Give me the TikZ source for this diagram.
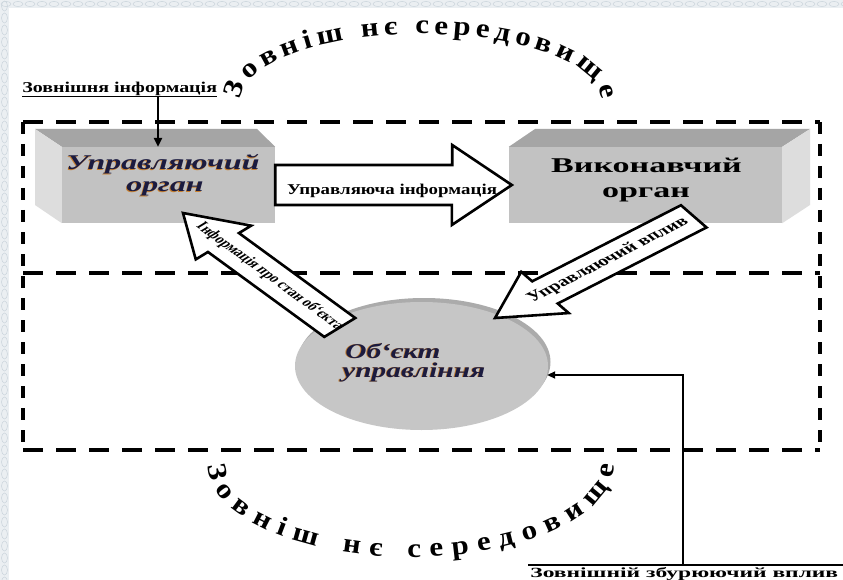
\documentclass[tikz,border=0pt]{standalone}
\usepackage{fontspec}
\setmainfont{Liberation Serif}
\newfontfamily\arcfont[FakeStretch=1.15]{Liberation Serif}
\usetikzlibrary{shapes.geometric,arrows.meta,calc,decorations.text}

\definecolor{frontgray}{HTML}{C2C2C2}
\definecolor{topgray}{HTML}{A5A5A5}
\definecolor{sidegray}{HTML}{DDDDDD}
\definecolor{discfront}{HTML}{C6C6C6}
\definecolor{discrim}{HTML}{ABABAB}
\definecolor{labelnavy}{HTML}{1B1B40}
\definecolor{labelglow}{HTML}{C8802F}
\definecolor{paper}{HTML}{EBEFF2}
\definecolor{paperline}{HTML}{CBD5DC}

% italic two-tone label: a warm copy slightly offset under the navy text
\newcommand\glowlabel[5]{%
  \node[italab, anchor=#2, xscale=#4, text=labelglow] (#1-glow) at ($#3+(-0.8,-0.5)$) {#5};
  \node[italab, anchor=#2, xscale=#4] (#1) at #3 {#5};}

\begin{document}
\begin{tikzpicture}[x=1pt, y=1pt,
  frame/.style={line width=3.2pt},
  hdash/.style={frame, dash pattern=on 20pt off 13pt},
  vdash/.style={frame, dash pattern=on 12pt off 10pt},
  blockline/.style={draw=black, fill=white, line width=2.6pt, line join=miter},
  feed/.style={line width=2.6pt, -{Triangle[length=9pt,width=8pt]}},
  boxfront/.style={fill=frontgray, minimum height=76pt, inner sep=0pt},
  italab/.style={font=\bfseries\itshape\fontsize{21}{22}\selectfont, text=labelnavy, inner sep=0pt},
  uplab/.style={font=\bfseries\fontsize{21}{22}\selectfont, inner sep=0pt, anchor=base},
  arrowtext/.style={font=\bfseries\fontsize{13}{13}\selectfont, inner sep=0pt},
  smallbold/.style={font=\bfseries\fontsize{15}{15}\selectfont, inner sep=0pt},
  arctext/.style={decorate, decoration={text along path, text align={fit to path},
    text={|\arcfont\bfseries\fontsize{27}{27}\selectfont|Зовніш нє середовище}}}
]
\useasboundingbox (0,0) rectangle (843,-580);
\fill[white] (0,0) rectangle (843,-580);

% ornamental paper edge
\fill[paper] (0,0) rectangle (843,-8);
\fill[paper] (0,0) rectangle (9,-580);
\begin{scope}[paperline, line width=0.5pt]
  \foreach \i in {0,...,70} \draw (\i*12+6,-4) ellipse[x radius=5, y radius=2.6];
  \foreach \j in {0,...,48} \draw (4.5,-\j*12-6) ellipse[x radius=3, y radius=5];
\end{scope}

% surrounding environment frame, split into two zones
\draw[hdash] (23,-122) -- (820,-122);
\draw[hdash] (23,-273) -- (820,-273);
\draw[hdash] (23,-450) -- (820,-450);
\draw[vdash] (23,-122) -- (23,-450);
\draw[vdash] (820,-122) -- (820,-450);

% control body (3D block)
\node[boxfront, minimum width=213pt] (ctrl) at (168.5,-185) {};
\fill[topgray] (35,-129) -- (257,-129) -- (ctrl.north east) -- (ctrl.north west) -- cycle;
\fill[sidegray] (35,-129) -- (ctrl.north west) -- (ctrl.south west) -- (35,-205) -- cycle;

% executive body (3D block)
\node[boxfront, minimum width=273pt] (exec) at (645.5,-185) {};
\fill[topgray] (exec.north west) -- (535,-129) -- (810,-129) -- (exec.north east) -- cycle;
\fill[sidegray] (exec.north east) -- (810,-129) -- (810,-205) -- (exec.south east) -- cycle;

% controlled object (disc)
\fill[discrim] (424,-362) ellipse[x radius=126.5, y radius=64];
\node[ellipse, fill=discfront, minimum width=253pt, minimum height=128pt, inner sep=0pt] (obj) at (421.5,-366) {};

% control information: block arrow between the two bodies
\draw[blockline] ($(ctrl.east)+(0,20)$) -- ++(177,0) -- ++(0,20) -- ($(exec.west)+(3,0)$)
  -- ++(-60,-40) -- ++(0,20) -- ($(ctrl.east)+(0,-20)$) -- cycle;
\node[arrowtext, font=\bfseries\fontsize{15}{15}\selectfont, anchor=base, xscale=1.26] (ctrlinfo) at (392,-195) {Управляюча інформація};

% feedback: state of the object
\begin{scope}[shift={(183,-213)}, xscale=1.5, rotate=132.4]
  \draw[blockline] (0,0) -- (-40,25) -- (-40,14) -- (-155,14) -- (-155,-14) -- (-40,-14) -- (-40,-25) -- cycle;
  \node[arrowtext, font=\bfseries\fontsize{12.5}{12.5}\selectfont, rotate=180, transform shape] (fbk) at (-86,0) {\scalebox{0.86}[1]{Інформація про стан об‘єкта}};
\end{scope}

% control action
\begin{scope}[shift={(495,-318)}, xscale=1.5, rotate=217.5]
  \draw[blockline] (0,0) -- (-42,26) -- (-42,14) -- (-167,14) -- (-167,-14) -- (-42,-14) -- (-42,-26) -- cycle;
  \node[arrowtext, font=\bfseries\fontsize{14}{14}\selectfont, rotate=180, transform shape] (act) at (-95,0) {Управляючий вплив};
\end{scope}

% block labels
\glowlabel{ctrl-l1}{base}{(163,-170)}{1.52}{Управляючий}
\glowlabel{ctrl-l2}{base}{(165,-192)}{1.52}{орган}
\node[uplab, xscale=1.62] (exec-l1) at (646.5,-173) {Виконавчий};
\node[uplab, xscale=1.62] (exec-l2) at (646,-198) {орган};
\glowlabel{obj-l1}{base west}{(345,-358)}{1.4}{Об‘єкт}
\glowlabel{obj-l2}{base west}{(342,-377)}{1.4}{управління}

% external information entering the control body
\node[smallbold, anchor=base west, xscale=1.33] (extinfo) at (22,-93) {Зовнішня інформація};
\draw[line width=1.3pt] ($(extinfo.base west)+(0,-3.5)$) -- ($(extinfo.base east)+(0,-3.5)$);
\coordinate (extdrop) at (158,-97);
\draw[feed] (extdrop) -- (extdrop |- ctrl.north);

% external disturbance acting on the object
\node[smallbold, font=\bfseries\fontsize{14}{14}\selectfont, anchor=base west, xscale=1.68] (dist) at (530,-577) {Зовнішній збурюючий вплив};
\draw[line width=1.8pt] (528,-565) -- (843,-565);
\coordinate (distrise) at (683,-565);
\draw[line width=2.6pt, -{Triangle[length=8pt,width=7pt]}] (distrise) |- ($(obj.east)+(-1,-9)$);

% environment captions along the arcs
\path[arctext] (241,-100) arc[start angle=180, end angle=0, x radius=180, y radius=66];
\path[arctext] (208,-465) arc[start angle=180, end angle=360, x radius=203, y radius=92];
\end{tikzpicture}
\end{document}
